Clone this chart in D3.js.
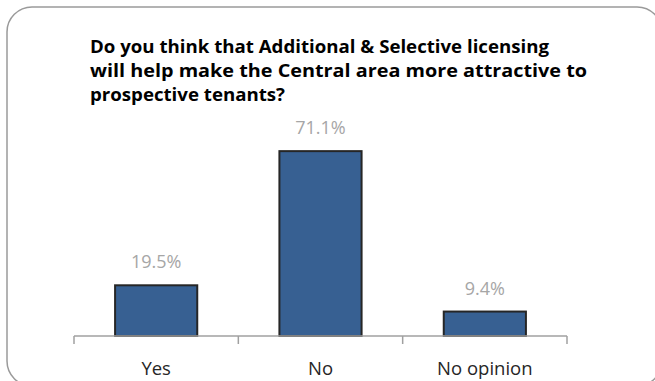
<!DOCTYPE html>
<html>
<head>
<meta charset="utf-8">
<script src="https://cdn.jsdelivr.net/npm/d3@7"></script>
<style>
  html, body { margin: 0; padding: 0; background: #fff; }
  svg { display: block; }
</style>
</head>
<body>
<svg id="chart" width="655" height="381"></svg>
<script>
// Survey responses
const categories = ["Yes", "No", "No opinion"];
const values = [19.5, 71.1, 9.4];
const valueLabels = ["19.5%", "71.1%", "9.4%"];
const titleLines = [
  "Do you think that Additional & Selective licensing",
  "will help make the Central area more attractive to",
  "prospective tenants?"
];

const svg = d3.select("#chart");

// Rounded frame
svg.append("rect")
  .attr("x", 7).attr("y", 7)
  .attr("width", 655).attr("height", 379)
  .attr("rx", 25).attr("ry", 25)
  .attr("fill", "#fff")
  .attr("stroke", "#9a9a9a")
  .attr("stroke-width", 1.5);

// Title
const titleWidths = [459, 497, 195];
const title = svg.append("g");
titleLines.forEach((t, i) => {
  title.append("text")
    .attr("x", 90)
    .attr("y", 53 + i * 24)
    .attr("font-family", "'Open Sans', 'Noto Sans', sans-serif")
    .attr("font-weight", "bold")
    .attr("font-size", 17.5)
    .attr("fill", "#000")
    .attr("textLength", titleWidths[i])
    .attr("lengthAdjust", "spacingAndGlyphs")
    .text(t);
});

// Scales
const x = d3.scaleBand()
  .domain(categories)
  .range([74, 567])
  .paddingInner(0.5)
  .paddingOuter(0.25);

const y = d3.scaleLinear()
  .domain([0, 80])
  .range([336, 128]);

// Bars
svg.append("g").selectAll("rect")
  .data(categories)
  .join("rect")
  .attr("x", d => x(d))
  .attr("y", (d, i) => y(values[i]))
  .attr("width", x.bandwidth())
  .attr("height", (d, i) => y(0) - y(values[i]))
  .attr("fill", "#376092")
  .attr("stroke", "#262626")
  .attr("stroke-width", 2);

// Value labels
svg.append("g").selectAll("text")
  .data(categories)
  .join("text")
  .attr("x", d => x(d) + x.bandwidth() / 2)
  .attr("y", (d, i) => y(values[i]) - 17)
  .attr("text-anchor", "middle")
  .attr("font-family", "'Open Sans', 'Noto Sans', sans-serif")
  .attr("font-size", 18)
  .attr("fill", "#a6a6a6")
  .text((d, i) => valueLabels[i]);

// Category axis with ticks between categories
const axisG = svg.append("g");
const edges = [74, 74 + (567 - 74) / 3, 74 + 2 * (567 - 74) / 3, 567];
axisG.append("line")
  .attr("x1", 74).attr("x2", 567)
  .attr("y1", y(0)).attr("y2", y(0))
  .attr("stroke", "#a0a0a0").attr("stroke-width", 1.5);
axisG.selectAll("line.tick")
  .data(edges)
  .join("line")
  .attr("class", "tick")
  .attr("x1", d => d).attr("x2", d => d)
  .attr("y1", y(0)).attr("y2", y(0) + 8)
  .attr("stroke", "#a0a0a0").attr("stroke-width", 1.5);

axisG.selectAll("text")
  .data(categories)
  .join("text")
  .attr("x", d => x(d) + x.bandwidth() / 2)
  .attr("y", 375)
  .attr("text-anchor", "middle")
  .attr("font-family", "'Open Sans', 'Noto Sans', sans-serif")
  .attr("font-size", 18.5)
  .attr("fill", "#262626")
  .text(d => d);
</script>
</body>
</html>
